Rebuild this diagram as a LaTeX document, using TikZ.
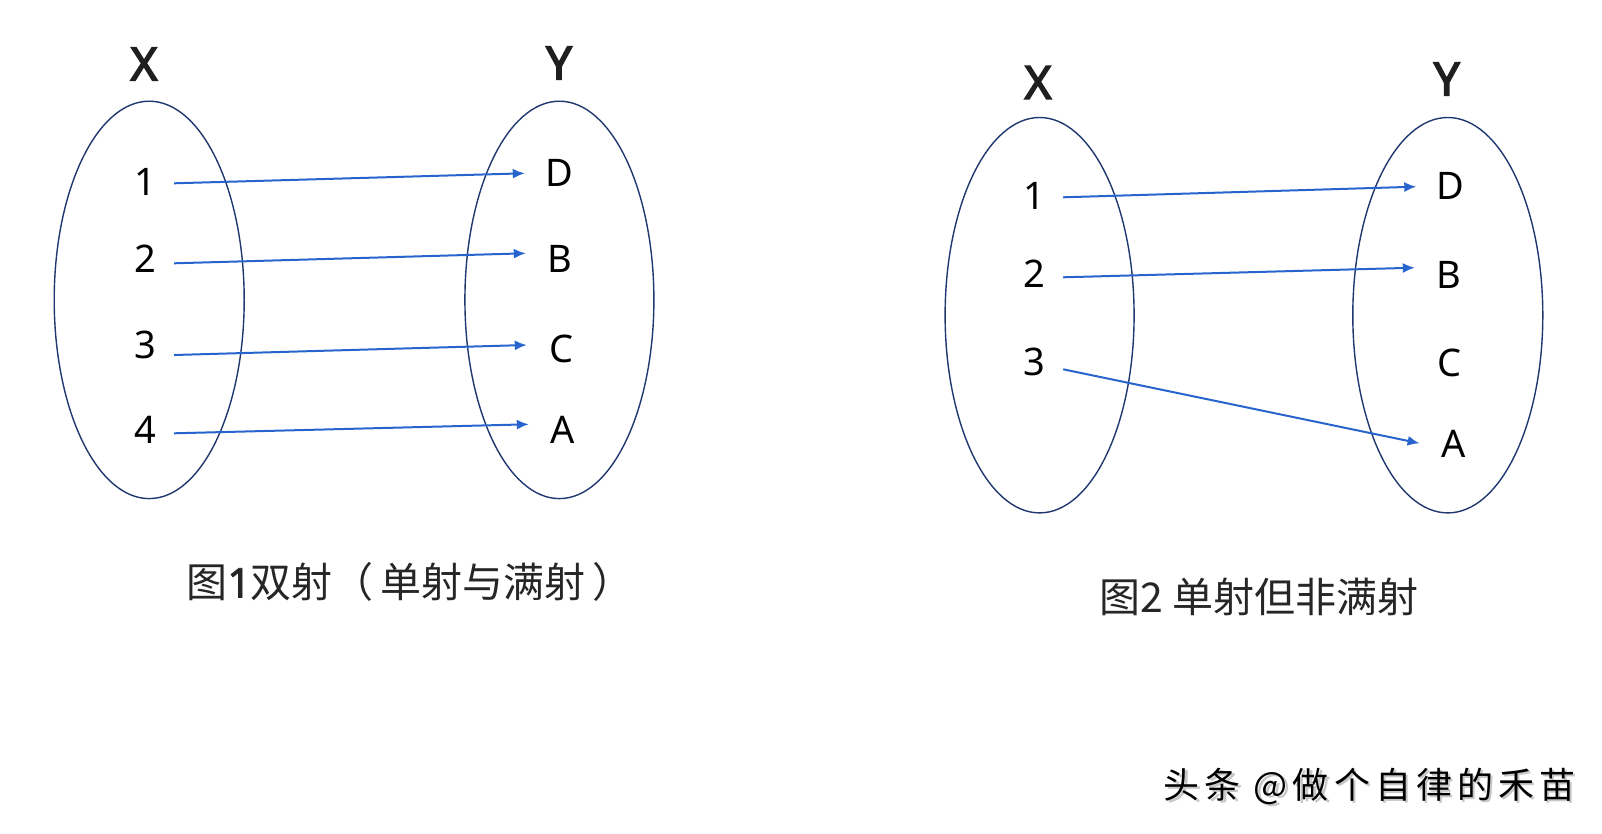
\documentclass[tikz,border=0pt]{standalone}
\usepackage{fontspec}
\setmainfont{Noto Sans}
\newfontfamily\labelbold{Noto Sans}[FakeBold=3.2]
\newfontfamily\digitbold{Noto Sans}[FakeBold=2]
\newfontfamily\cjk{Noto Sans CJK SC}
\usetikzlibrary{arrows.meta}
\definecolor{setline}{RGB}{32,56,112}
\definecolor{mapblue}{RGB}{40,100,205}
\begin{document}
\begin{tikzpicture}[x=1pt,y=-1pt,
  setname/.style={font=\labelbold\fontsize{46}{50}\selectfont, inner sep=0pt, text=black!88},
  elem/.style={font=\fontsize{38}{42}\selectfont, inner sep=0pt, minimum width=58pt},
  imgel/.style={font=\fontsize{38}{42}\selectfont, inner sep=0pt, minimum width=68pt},
  setellipse/.style={draw=setline, line width=1.4pt},
  maparrow/.style={draw=mapblue, line width=2pt, -{Latex[length=12pt,width=10pt]}},
  caption/.style={font=\cjk\fontsize{41}{46}\selectfont, inner sep=0pt, text=black!85}
]
\useasboundingbox[fill=white] (0,0) rectangle (1602,834);

% ---------- Figure 1 ----------
\node[setname] (x1) at (144,64) {X};
\node[setname] (y1) at (559,63) {Y};
\draw[setellipse] (149.2,299.9) ellipse [x radius=95pt, y radius=198.7pt];
\draw[setellipse] (559.4,299.9) ellipse [x radius=94.5pt, y radius=198.7pt];

\node[elem] (a1) at (145,181.7) {1};
\node[elem] (a2) at (145,259) {2};
\node[elem] (a3) at (145,345) {3};
\node[elem] (a4) at (145,430) {4};

\node[imgel] (bD) at (559,173) {D};
\node[imgel] (bB) at (560,259) {B};
\node[imgel] (bC) at (561,349) {C};
\node[imgel] (bA) at (563,430) {A};

\draw[maparrow] ([yshift=-1.6pt]a1.east) -- ([yshift=-0.3pt]bD.west);
\draw[maparrow] ([yshift=-4.3pt]a2.east) -- ([yshift=5.7pt]bB.west);
\draw[maparrow] ([yshift=-10pt]a3.east) -- ([yshift=4pt]bC.west);
\draw[maparrow] ([yshift=-3.3pt]a4.east) -- ([yshift=5.7pt]bA.west);

\node[caption] (cap1) at (410,582) {图{\digitbold 1}双射（\,单射与满射\,）};

% ---------- Figure 2 ----------
\node[setname] (x2) at (1038,82.5) {X};
\node[setname] (y2) at (1446.7,79) {Y};
\draw[setellipse] (1039.6,315.2) ellipse [x radius=94.5pt, y radius=197.7pt];
\draw[setellipse] (1447.8,315.2) ellipse [x radius=95pt, y radius=197.7pt];

\node[elem] (c1) at (1034,195.8) {1};
\node[elem] (c2) at (1034,273.3) {2};
\node[elem] (c3) at (1034,361.7) {3};

\node[imgel] (dD) at (1450.5,185.8) {D};
\node[imgel] (dB) at (1449,275) {B};
\node[imgel] (dC) at (1449.8,363.3) {C};
\node[imgel] (dA) at (1453.8,444.2) {A};

\draw[maparrow] ([yshift=-1.5pt]c1.east) -- ([yshift=-0.9pt]dD.west);
\draw[maparrow] ([yshift=-4pt]c2.east) -- ([yshift=7.3pt]dB.west);
\draw[maparrow] ([yshift=-7.6pt]c3.east) -- ([yshift=0.9pt]dA.west);

\node[caption] (cap2) at (1259,597) {图2 单射但非满射};

% ---------- watermark ----------
\node[font=\cjk\fontsize{36}{40}\selectfont\addfontfeature{LetterSpace=14}, inner sep=0pt, text=black!22] (wmshadow) at (1372,788) {头条 @做个自律的禾苗};
\node[font=\cjk\fontsize{36}{40}\selectfont\addfontfeature{LetterSpace=14}, inner sep=0pt, text=black] (wm) at (1369.5,786) {头条 @做个自律的禾苗};
\end{tikzpicture}
\end{document}
